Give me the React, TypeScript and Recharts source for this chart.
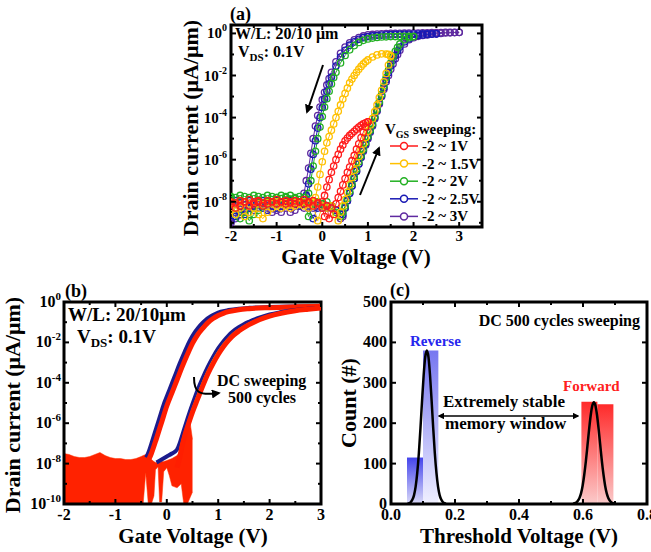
import React from "react";
import { ComposedChart, Line, Area, XAxis, YAxis, ReferenceArea } from "recharts";

type Pair = [number, number];

const FONT = "'Times New Roman', 'Liberation Serif', serif";

// ---------- (a) hysteresis sweeps, log10(Id) vs Vgs ----------
const SWEEP_LABELS = ["-2 ~ 1V", "-2 ~ 1.5V", "-2 ~ 2V", "-2 ~ 2.5V", "-2 ~ 3V"];
const SWEEP_COLORS = ["#ff1a1a", "#ffc000", "#22b022", "#1a1ab4", "#5f2aa0"];

const A_RED_FWD: Pair[] = [
  [-2.0, -8.1], [-1.9, -8.3], [-1.8, -8.2], [-1.7, -8.0], [-1.6, -8.2], [-1.5, -8.1], [-1.4, -8.0], [-1.3, -8.2],
  [-1.2, -8.1], [-1.1, -8.0], [-1.0, -8.1], [-0.9, -8.0], [-0.8, -8.1], [-0.7, -8.0], [-0.6, -8.1], [-0.5, -8.0],
  [-0.4, -8.1], [-0.3, -8.0], [-0.2, -8.2], [-0.1, -8.1], [0.0, -8.3], [0.05, -8.7], [0.1, -8.2], [0.15, -8.8],
  [0.2, -8.3], [0.25, -8.6], [0.3, -8.1], [0.35, -7.8], [0.4, -7.5], [0.45, -7.2], [0.5, -6.9], [0.55, -6.6],
  [0.6, -6.35], [0.65, -6.05], [0.7, -5.8], [0.75, -5.5], [0.8, -5.25], [0.85, -4.95], [0.9, -4.7], [0.95, -4.45],
  [1.0, -4.2],
];
const A_RED_REV: Pair[] = [
  [1.0, -4.2], [0.95, -4.25], [0.9, -4.3], [0.85, -4.37], [0.8, -4.45], [0.75, -4.55], [0.7, -4.65], [0.65, -4.75],
  [0.6, -4.85], [0.55, -4.97], [0.5, -5.1], [0.45, -5.3], [0.4, -5.5], [0.35, -5.75], [0.3, -6.0], [0.25, -6.3],
  [0.2, -6.6], [0.15, -6.95], [0.1, -7.3], [0.05, -7.7], [0.0, -8.0], [-0.1, -8.05], [-0.2, -7.95], [-0.3, -8.05],
  [-0.4, -7.9], [-0.5, -8.0], [-0.6, -7.95], [-0.7, -8.05], [-0.8, -7.95], [-0.9, -8.0], [-1.0, -7.9], [-1.1, -8.0],
  [-1.2, -7.95], [-1.3, -8.05], [-1.4, -7.95], [-1.5, -8.0], [-1.6, -7.9], [-1.7, -8.0], [-1.8, -7.95], [-1.9, -8.05],
  [-2.0, -8.0],
];
const A_YEL_FWD: Pair[] = [
  [-2.0, -8.4], [-1.9, -8.6], [-1.8, -8.3], [-1.7, -8.7], [-1.6, -8.5], [-1.5, -8.3], [-1.4, -8.6], [-1.3, -8.8],
  [-1.2, -8.5], [-1.1, -8.3], [-1.0, -8.2], [-0.9, -8.3], [-0.8, -8.2], [-0.7, -8.3], [-0.6, -8.2], [-0.5, -8.1],
  [-0.4, -8.2], [-0.3, -8.3], [-0.2, -8.2], [-0.1, -8.9], [0.0, -8.2], [0.1, -8.3], [0.2, -8.2], [0.3, -8.6],
  [0.35, -8.9], [0.4, -8.5], [0.45, -8.2], [0.5, -7.9], [0.55, -7.55], [0.6, -7.2], [0.65, -6.85], [0.7, -6.5],
  [0.75, -6.15], [0.8, -5.85], [0.85, -5.55], [0.9, -5.25], [0.95, -4.95], [1.0, -4.65], [1.05, -4.35], [1.1, -4.05],
  [1.15, -3.72], [1.2, -3.4], [1.25, -3.05], [1.3, -2.7], [1.35, -2.3], [1.4, -1.9], [1.45, -1.5], [1.5, -1.1],
];
const A_YEL_REV: Pair[] = [
  [1.5, -1.05], [1.45, -1.0], [1.4, -0.98], [1.3, -0.97], [1.2, -1.02], [1.1, -1.12], [1.0, -1.26], [0.95, -1.35],
  [0.9, -1.45], [0.85, -1.57], [0.8, -1.7], [0.75, -1.85], [0.7, -2.0], [0.65, -2.17], [0.6, -2.35], [0.55, -2.6],
  [0.5, -2.85], [0.45, -3.12], [0.4, -3.4], [0.35, -3.7], [0.3, -4.0], [0.25, -4.3], [0.2, -4.6], [0.15, -4.9],
  [0.1, -5.2], [0.05, -5.6], [0.0, -6.1], [-0.05, -6.7], [-0.1, -7.3], [-0.15, -7.8], [-0.2, -8.0], [-0.3, -8.1],
  [-0.4, -8.0], [-0.5, -8.1], [-0.6, -8.05], [-0.7, -8.15], [-0.8, -8.05], [-0.9, -8.1], [-1.0, -8.0], [-1.1, -8.1],
  [-1.2, -8.05], [-1.3, -8.15], [-1.4, -8.1], [-1.5, -8.0], [-1.6, -8.1], [-1.7, -8.05], [-1.8, -8.15], [-1.9, -8.1],
  [-2.0, -8.05],
];
const A_GRN_FWD: Pair[] = [
  [-2.0, -7.8], [-1.9, -8.6], [-1.8, -8.8], [-1.7, -8.5], [-1.6, -8.9], [-1.5, -8.6], [-1.4, -8.4], [-1.3, -8.2],
  [-1.2, -8.0], [-1.1, -7.9], [-1.0, -7.8], [-0.9, -7.85], [-0.8, -7.8], [-0.7, -7.9], [-0.6, -7.85], [-0.5, -7.9],
  [-0.4, -8.0], [-0.3, -8.7], [-0.2, -8.1], [-0.1, -8.0], [0.0, -8.1], [0.1, -8.0], [0.2, -8.2], [0.3, -8.5],
  [0.4, -8.7], [0.45, -8.5], [0.5, -8.2], [0.55, -7.85], [0.6, -7.5], [0.65, -7.15], [0.7, -6.8], [0.75, -6.45],
  [0.8, -6.1], [0.85, -5.8], [0.9, -5.5], [0.95, -5.2], [1.0, -4.9], [1.05, -4.6], [1.1, -4.3], [1.15, -3.95],
  [1.2, -3.6], [1.25, -3.25], [1.3, -2.9], [1.35, -2.5], [1.4, -2.1], [1.45, -1.75], [1.5, -1.4], [1.55, -1.1],
  [1.6, -0.85], [1.65, -0.66], [1.7, -0.5], [1.8, -0.3], [1.9, -0.2], [2.0, -0.15],
];
const A_GRN_REV: Pair[] = [
  [2.0, -0.15], [1.9, -0.14], [1.8, -0.14], [1.7, -0.14], [1.6, -0.15], [1.5, -0.15], [1.4, -0.16], [1.3, -0.17],
  [1.2, -0.19], [1.1, -0.22], [1.0, -0.26], [0.9, -0.33], [0.8, -0.43], [0.7, -0.58], [0.6, -0.78], [0.5, -1.05],
  [0.4, -1.4], [0.3, -1.85], [0.25, -2.1], [0.2, -2.4], [0.15, -2.75], [0.1, -3.1], [0.05, -3.5], [0.0, -3.95],
  [-0.05, -4.45], [-0.1, -5.0], [-0.15, -5.6], [-0.2, -6.3], [-0.25, -7.0], [-0.3, -7.6], [-0.35, -8.0], [-0.4, -7.8],
  [-0.5, -7.75], [-0.6, -7.8], [-0.7, -7.7], [-0.8, -7.75], [-0.9, -7.7], [-1.0, -7.8], [-1.1, -7.75], [-1.2, -7.7],
  [-1.3, -7.8], [-1.4, -7.75], [-1.5, -7.7], [-1.6, -7.8], [-1.7, -7.75], [-1.8, -7.7], [-1.9, -7.8], [-2.0, -7.75],
];
const A_BLU_FWD: Pair[] = [
  [-2.0, -8.9], [-1.9, -8.7], [-1.8, -8.5], [-1.7, -8.6], [-1.6, -8.3], [-1.5, -8.2], [-1.4, -8.1], [-1.3, -8.3],
  [-1.2, -8.4], [-1.1, -8.2], [-1.0, -8.3], [-0.9, -8.2], [-0.8, -8.1], [-0.7, -8.2], [-0.6, -8.1], [-0.5, -8.2],
  [-0.4, -8.1], [-0.3, -8.3], [-0.2, -8.8], [-0.1, -8.3], [0.0, -8.2], [0.1, -8.3], [0.2, -8.2], [0.3, -8.4],
  [0.4, -8.6], [0.45, -8.6], [0.5, -8.3], [0.55, -7.95], [0.6, -7.6], [0.65, -7.25], [0.7, -6.9], [0.75, -6.55],
  [0.8, -6.2], [0.85, -5.87], [0.9, -5.55], [0.95, -5.25], [1.0, -4.95], [1.05, -4.65], [1.1, -4.35], [1.15, -4.0],
  [1.2, -3.65], [1.25, -3.3], [1.3, -2.95], [1.35, -2.58], [1.4, -2.2], [1.45, -1.87], [1.5, -1.55], [1.55, -1.28],
  [1.6, -1.05], [1.65, -0.84], [1.7, -0.65], [1.8, -0.4], [1.9, -0.25], [2.0, -0.15], [2.1, -0.1], [2.2, -0.07],
  [2.3, -0.05], [2.4, -0.03], [2.5, -0.02],
];
const A_BLU_REV: Pair[] = [
  [2.5, -0.02], [2.4, -0.02], [2.3, -0.02], [2.2, -0.02], [2.1, -0.03], [2.0, -0.03], [1.9, -0.04], [1.8, -0.04],
  [1.7, -0.04], [1.6, -0.05], [1.5, -0.06], [1.4, -0.07], [1.3, -0.08], [1.2, -0.1], [1.1, -0.12], [1.0, -0.15],
  [0.9, -0.2], [0.8, -0.28], [0.7, -0.4], [0.6, -0.56], [0.5, -0.8], [0.4, -1.12], [0.3, -1.55], [0.2, -2.08],
  [0.15, -2.4], [0.1, -2.75], [0.05, -3.12], [0.0, -3.52], [-0.05, -4.0], [-0.1, -4.5], [-0.15, -5.1], [-0.2, -5.75],
  [-0.25, -6.45], [-0.3, -7.15], [-0.35, -7.7], [-0.4, -8.0], [-0.5, -8.0], [-0.6, -8.05], [-0.7, -7.95], [-0.8, -8.0],
  [-0.9, -8.05], [-1.0, -7.95], [-1.1, -8.0], [-1.2, -8.05], [-1.3, -7.95], [-1.4, -8.0], [-1.5, -8.05], [-1.6, -7.95],
  [-1.7, -8.0], [-1.8, -8.05], [-1.9, -7.95], [-2.0, -8.0],
];
const A_PUR_FWD: Pair[] = [
  [-2.0, -9.0], [-1.9, -8.8], [-1.8, -8.6], [-1.7, -8.4], [-1.6, -8.3], [-1.5, -8.4], [-1.4, -8.3], [-1.3, -8.2],
  [-1.2, -8.3], [-1.1, -8.5], [-1.0, -8.4], [-0.9, -8.5], [-0.8, -8.3], [-0.7, -8.5], [-0.6, -8.4], [-0.5, -8.2],
  [-0.4, -8.3], [-0.3, -8.2], [-0.2, -8.3], [-0.1, -8.2], [0.0, -8.3], [0.1, -8.2], [0.2, -8.3], [0.3, -8.4],
  [0.4, -8.8], [0.45, -8.7], [0.5, -8.3], [0.55, -7.95], [0.6, -7.6], [0.65, -7.25], [0.7, -6.9], [0.75, -6.55],
  [0.8, -6.2], [0.85, -5.9], [0.9, -5.6], [0.95, -5.3], [1.0, -5.0], [1.05, -4.7], [1.1, -4.4], [1.15, -4.05],
  [1.2, -3.7], [1.25, -3.35], [1.3, -3.0], [1.35, -2.65], [1.4, -2.3], [1.45, -2.0], [1.5, -1.7], [1.55, -1.45],
  [1.6, -1.2], [1.65, -1.0], [1.7, -0.8], [1.8, -0.5], [1.9, -0.3], [2.0, -0.2], [2.1, -0.14], [2.2, -0.1],
  [2.3, -0.07], [2.4, -0.04], [2.5, -0.02], [2.6, 0.0], [2.7, 0.02], [2.8, 0.03], [2.9, 0.04], [3.0, 0.05],
];
const A_PUR_REV: Pair[] = [
  [3.0, 0.05], [2.9, 0.05], [2.8, 0.05], [2.7, 0.05], [2.6, 0.04], [2.5, 0.04], [2.4, 0.04], [2.3, 0.03],
  [2.2, 0.03], [2.1, 0.02], [2.0, 0.02], [1.9, 0.01], [1.8, 0.01], [1.7, 0.0], [1.6, 0.0], [1.5, 0.0],
  [1.4, -0.01], [1.3, -0.02], [1.2, -0.03], [1.1, -0.05], [1.0, -0.07], [0.9, -0.12], [0.8, -0.2], [0.7, -0.3],
  [0.6, -0.45], [0.5, -0.65], [0.4, -0.95], [0.3, -1.35], [0.2, -1.85], [0.15, -2.15], [0.1, -2.45], [0.05, -2.8],
  [0.0, -3.15], [-0.05, -3.5], [-0.1, -3.9], [-0.15, -4.4], [-0.2, -5.0], [-0.25, -5.7], [-0.3, -6.4], [-0.35, -7.0],
  [-0.4, -7.6], [-0.45, -8.0], [-0.5, -8.1], [-0.6, -8.2], [-0.7, -8.1], [-0.8, -8.15], [-0.9, -8.2], [-1.0, -8.1],
  [-1.1, -8.15], [-1.2, -8.2], [-1.3, -8.1], [-1.4, -8.15], [-1.5, -8.2], [-1.6, -8.1], [-1.7, -8.15], [-1.8, -8.2],
  [-1.9, -8.1], [-2.0, -8.15],
];
const A_SWEEPS: Pair[][][] = [
  [A_RED_FWD, A_RED_REV],
  [A_YEL_FWD, A_YEL_REV],
  [A_GRN_FWD, A_GRN_REV],
  [A_BLU_FWD, A_BLU_REV],
  [A_PUR_FWD, A_PUR_REV],
];
const A_X_TICKS = [-2, -1.5, -1, -0.5, 0, 0.5, 1, 1.5, 2, 2.5, 3, 3.5];
const A_X_MAJOR = [-2, -1, 0, 1, 2, 3];
const A_Y_TICKS = [-9, -8, -7, -6, -5, -4, -3, -2, -1, 0];
const A_Y_MAJOR = [-8, -6, -4, -2, 0];

// ---------- (b) 500 DC cycles ----------
const B_REV_NAVY: Pair[] = [
  [-0.4, -7.7], [-0.35, -7.4], [-0.25, -6.6], [-0.15, -5.8], [-0.05, -5.0], [0.05, -4.35], [0.15, -3.7], [0.25, -3.05],
  [0.35, -2.45], [0.45, -1.9], [0.55, -1.48], [0.65, -1.15], [0.75, -0.9], [0.85, -0.72], [0.95, -0.58], [1.05, -0.48],
  [1.2, -0.4], [1.4, -0.33], [1.6, -0.29], [2.0, -0.25], [2.5, -0.22], [3.0, -0.2],
];
const B_REV_RED: Pair[] = [
  [-0.35, -7.8], [-0.3, -7.5], [-0.2, -6.75], [-0.1, -5.95], [0.0, -5.15], [0.1, -4.5], [0.2, -3.85], [0.3, -3.2],
  [0.4, -2.6], [0.5, -2.05], [0.6, -1.62], [0.7, -1.3], [0.8, -1.02], [0.9, -0.82], [1.0, -0.67], [1.1, -0.56],
  [1.2, -0.48], [1.4, -0.38], [1.6, -0.33], [2.0, -0.28], [2.5, -0.24], [3.0, -0.21],
];
const B_FWD_NAVY: Pair[] = [
  [-0.2, -7.95], [-0.1, -7.8], [0.0, -7.65], [0.1, -7.5], [0.2, -7.3], [0.25, -7.0], [0.3, -6.6], [0.4, -5.8],
  [0.5, -5.05], [0.6, -4.35], [0.7, -3.75], [0.8, -3.2], [0.9, -2.72], [1.0, -2.3], [1.1, -1.95], [1.2, -1.66],
  [1.3, -1.43], [1.4, -1.25], [1.5, -1.1], [1.6, -0.98], [1.8, -0.78], [2.0, -0.62], [2.2, -0.51], [2.5, -0.39],
  [2.75, -0.33], [3.0, -0.28],
];
const B_FWD_YEL: Pair[] = [
  [0.25, -7.4], [0.3, -6.9], [0.35, -6.45], [0.4, -6.05], [0.5, -5.3], [0.6, -4.62], [0.7, -3.98], [0.8, -3.4],
  [0.9, -2.9], [1.0, -2.47], [1.1, -2.1], [1.2, -1.8], [1.3, -1.55], [1.4, -1.36], [1.5, -1.2], [1.6, -1.06],
  [1.8, -0.84], [2.0, -0.67], [2.2, -0.55], [2.5, -0.42], [3.0, -0.29],
];
const B_FWD_RED: Pair[] = [
  [0.2, -8.2], [0.25, -7.7], [0.3, -7.1], [0.35, -6.6], [0.4, -6.2], [0.5, -5.45], [0.6, -4.8], [0.7, -4.15],
  [0.8, -3.55], [0.9, -3.05], [1.0, -2.6], [1.1, -2.22], [1.2, -1.9], [1.3, -1.64], [1.4, -1.44], [1.5, -1.27],
  [1.6, -1.12], [1.8, -0.88], [2.0, -0.7], [2.2, -0.57], [2.5, -0.43], [2.75, -0.36], [3.0, -0.3],
];
// off-state noise envelope: [V, low, high]
const B_NOISE: [number, number, number][] = [
  [-2.0, -10, -7.5], [-1.9, -10, -7.55], [-1.8, -10, -7.65], [-1.7, -10, -7.7], [-1.6, -10, -7.7], [-1.5, -10, -7.65],
  [-1.4, -10, -7.55], [-1.3, -10, -7.45], [-1.2, -10, -7.6], [-1.1, -10, -7.7], [-1.0, -10, -7.75], [-0.9, -10, -7.75],
  [-0.8, -10, -7.8], [-0.7, -10, -7.8], [-0.6, -10, -7.75], [-0.5, -10, -7.65], [-0.46, -10, -7.6], [-0.41, -8.45, -7.55],
  [-0.36, -10, -7.65], [-0.3, -10, -7.8], [-0.25, -9.6, -7.9], [-0.22, -8.3, -7.95], [-0.17, -8.15, -7.95],
  [-0.14, -9.9, -7.95], [-0.1, -9.9, -7.9], [-0.06, -8.4, -7.9], [0.0, -8.2, -7.85], [0.05, -8.6, -7.8],
  [0.1, -9.1, -7.75], [0.2, -9.2, -7.6], [0.28, -9.0, -7.3], [0.33, -10, -6.9], [0.4, -10, -6.3], [0.45, -9.7, -5.9],
  [0.5, -9.4, -6.8],
];
const B_X_TICKS = [-2, -1.5, -1, -0.5, 0, 0.5, 1, 1.5, 2, 2.5, 3];
const B_X_MAJOR = [-2, -1, 0, 1, 2, 3];
const B_Y_TICKS = [-10, -9, -8, -7, -6, -5, -4, -3, -2, -1, 0];
const B_Y_MAJOR = [-10, -8, -6, -4, -2, 0];

// ---------- (c) Vth histogram ----------
const C_REV_BINS: [number, number, number][] = [[0.05, 0.1, 115], [0.1, 0.148, 380]];
const C_FWD_BINS: [number, number, number][] = [[0.595, 0.645, 253], [0.645, 0.695, 247]];
const C_REV_FIT: Pair[] = [
  [0.052, 1], [0.057, 2], [0.062, 5], [0.067, 11], [0.072, 22], [0.077, 43], [0.082, 77], [0.087, 125],
  [0.092, 187], [0.097, 255], [0.102, 318], [0.107, 364], [0.112, 380], [0.117, 364], [0.122, 318], [0.127, 255],
  [0.132, 187], [0.137, 125], [0.142, 77], [0.147, 43], [0.152, 22], [0.157, 11], [0.162, 5], [0.167, 2], [0.172, 1],
];
const C_FWD_FIT: Pair[] = [
  [0.569, 1], [0.574, 2], [0.579, 4], [0.584, 8], [0.589, 15], [0.594, 27], [0.599, 46], [0.604, 73],
  [0.609, 106], [0.614, 145], [0.619, 184], [0.624, 219], [0.629, 243], [0.634, 252], [0.639, 243], [0.644, 219],
  [0.649, 184], [0.654, 145], [0.659, 106], [0.664, 73], [0.669, 46], [0.674, 27], [0.679, 15], [0.684, 8],
  [0.689, 4], [0.694, 2], [0.699, 1],
];
const C_X_TICKS = [0, 0.1, 0.2, 0.3, 0.4, 0.5, 0.6, 0.7, 0.8];
const C_X_MAJOR = [0, 0.2, 0.4, 0.6, 0.8];
const C_Y_TICKS = [0, 100, 200, 300, 400, 500];
const C_Y_MAJOR = [0, 100, 200, 300, 400, 500];

const pts = (a: Pair[], k = "i") => a.map(([v, y]) => ({ v, [k]: y }));
const isMajor = (v: number, m: number[]) => m.some((x) => Math.abs(x - v) < 1e-6);

type TickOpt = { major: number[]; span: number; size: number; gap: number; label: (v: number) => React.ReactNode };

const xTick = (o: TickOpt) => (p: any) => {
  const { x, y } = p;
  const v = p.payload.value;
  const mj = isMajor(v, o.major);
  const len = mj ? 5 : 3;
  return (
    <g>
      <line x1={x} x2={x} y1={y} y2={y - len} stroke="#000" strokeWidth={2} />
      <line x1={x} x2={x} y1={y - o.span} y2={y - o.span + len} stroke="#000" strokeWidth={2} />
      {mj && (
        <text x={x} y={y + o.gap} textAnchor="middle" fontFamily={FONT} fontWeight="bold" fontSize={o.size} fill="#000">
          {o.label(v)}
        </text>
      )}
    </g>
  );
};

const yTick = (o: TickOpt) => (p: any) => {
  const { x, y } = p;
  const v = p.payload.value;
  const mj = isMajor(v, o.major);
  const len = mj ? 5 : 3;
  return (
    <g>
      <line x1={x} x2={x + len} y1={y} y2={y} stroke="#000" strokeWidth={2} />
      <line x1={x + o.span} x2={x + o.span - len} y1={y} y2={y} stroke="#000" strokeWidth={2} />
      {mj && (
        <text x={x - o.gap} y={y + 5} textAnchor="end" fontFamily={FONT} fontWeight="bold" fontSize={o.size} fill="#000">
          {o.label(v)}
        </text>
      )}
    </g>
  );
};

const pow10 = (sup: number) => (v: number) => (
  <>
    <tspan>10</tspan>
    <tspan dy={-7} fontSize={sup}>{v}</tspan>
  </>
);

const axisCommon = {
  type: "number" as const,
  interval: 0 as const,
  allowDataOverflow: true,
  tickSize: 0,
  tickMargin: 0,
  axisLine: false,
  tickLine: false,
};

// axes get 1px of thickness (0 would make recharts skip drawing them)
const MARGIN = { top: 20, right: 10, bottom: 29, left: 49 };

function PanelA() {
  return (
    <div style={{ position: "absolute", left: 181, top: 5 }}>
      <ComposedChart width={311} height={252} margin={MARGIN}>
        <XAxis {...axisCommon} dataKey="v" domain={[-2, 3.5]} ticks={A_X_TICKS} height={1}
          tick={xTick({ major: A_X_MAJOR, span: 202, size: 15, gap: 14, label: (v) => String(v) })} />
        <YAxis {...axisCommon} domain={[-9.2, 0.4]} ticks={A_Y_TICKS} width={1}
          tick={yTick({ major: A_Y_MAJOR, span: 251, size: 15, gap: 4, label: pow10(10) })} />
        {[4, 3, 2, 1, 0].flatMap((k) =>
          A_SWEEPS[k].map((br, j) => (
            <Line key={`a${k}${j}`} data={pts(br)} dataKey="i" type="linear" stroke={SWEEP_COLORS[k]} strokeWidth={1}
              dot={{ r: 3.2, fill: "none", stroke: SWEEP_COLORS[k], strokeWidth: 1.3 }} activeDot={false}
              isAnimationActive={false} />
          ))
        )}
        <ReferenceArea x1={-2} x2={3.5} y1={-9.2} y2={0.4} fill="none" stroke="#000" strokeWidth={3} />
      </ComposedChart>
    </div>
  );
}

function PanelB() {
  const noise = B_NOISE.map(([v, lo, hi]) => ({ v, r: [lo, hi] }));
  const band = (d: Pair[], c: string, w: number, key: string) => (
    <Line key={key} data={pts(d)} dataKey="i" type="monotone" stroke={c} strokeWidth={w} dot={false}
      activeDot={false} isAnimationActive={false} />
  );
  return (
    <div style={{ position: "absolute", left: 14, top: 282 }}>
      <ComposedChart width={317} height={252} margin={MARGIN}>
        <XAxis {...axisCommon} dataKey="v" domain={[-2, 3]} ticks={B_X_TICKS} height={1}
          tick={xTick({ major: B_X_MAJOR, span: 202, size: 16, gap: 16, label: (v) => String(v) })} />
        <YAxis {...axisCommon} domain={[-10, 0]} ticks={B_Y_TICKS} width={1}
          tick={yTick({ major: B_Y_MAJOR, span: 257, size: 16, gap: 3, label: pow10(11) })} />
        <Area data={noise} dataKey="r" type="linear" stroke="#ff3300" strokeWidth={0.5} fill="#ff2200" fillOpacity={1}
          activeDot={false} isAnimationActive={false} />
        {band(B_REV_NAVY, "#1c1c8c", 4, "rn")}
        {band(B_REV_RED, "#ff1e00", 5, "rr")}
        {band(B_FWD_NAVY, "#1c1c8c", 4, "fn")}
        {band(B_FWD_YEL, "#e6e600", 2, "fy")}
        {band(B_FWD_RED, "#ff1e00", 5, "fr")}
        <ReferenceArea x1={-2} x2={3} y1={-10} y2={0} fill="none" stroke="#000" strokeWidth={3} />
      </ComposedChart>
    </div>
  );
}

function PanelC() {
  return (
    <div style={{ position: "absolute", left: 341, top: 282 }}>
      <ComposedChart width={310} height={252} margin={{ ...MARGIN, right: 4 }}>
        <defs>
          <linearGradient id="gRevS" x1="0" y1="0" x2="0" y2="1">
            <stop offset="0%" stopColor="#4444ec" />
            <stop offset="100%" stopColor="#dadaf8" />
          </linearGradient>
          <linearGradient id="gRevT" x1="0" y1="0" x2="0" y2="1">
            <stop offset="0%" stopColor="#7676f0" />
            <stop offset="100%" stopColor="#f0f0ff" />
          </linearGradient>
          <linearGradient id="gFwd" x1="0" y1="0" x2="0" y2="1">
            <stop offset="0%" stopColor="#ff2a2a" />
            <stop offset="100%" stopColor="#fbcaca" />
          </linearGradient>
        </defs>
        <XAxis {...axisCommon} dataKey="v" domain={[0, 0.8]} ticks={C_X_TICKS} height={1}
          tick={xTick({ major: C_X_MAJOR, span: 202, size: 16, gap: 16, label: (v) => v.toFixed(1) })} />
        <YAxis {...axisCommon} domain={[0, 500]} ticks={C_Y_TICKS} width={1}
          tick={yTick({ major: C_Y_MAJOR, span: 256, size: 16, gap: 4, label: (v) => String(v) })} />
        {C_REV_BINS.map(([l, r, n], k) => (
          <ReferenceArea key={`rb${k}`} x1={l} x2={r} y1={0} y2={n} fill={k === 0 ? "url(#gRevS)" : "url(#gRevT)"}
            fillOpacity={1} stroke="none" />
        ))}
        {C_FWD_BINS.map(([l, r, n], k) => (
          <ReferenceArea key={`fb${k}`} x1={l} x2={r} y1={0} y2={n} fill="url(#gFwd)" fillOpacity={1} stroke="none" />
        ))}
        <Line data={pts(C_REV_FIT, "c")} dataKey="c" type="monotone" stroke="#000" strokeWidth={2.5} dot={false}
          activeDot={false} isAnimationActive={false} />
        <Line data={pts(C_FWD_FIT, "c")} dataKey="c" type="monotone" stroke="#000" strokeWidth={2.5} dot={false}
          activeDot={false} isAnimationActive={false} />
        <ReferenceArea x1={0} x2={0.8} y1={0} y2={500} fill="none" stroke="#000" strokeWidth={3} />
      </ComposedChart>
    </div>
  );
}

function Overlay() {
  return (
    <svg width={651} height={552} style={{ position: "absolute", left: 0, top: 0, pointerEvents: "none" }}>
      <defs>
        <marker id="ah" viewBox="0 0 10 10" refX="8" refY="5" markerWidth="4.5" markerHeight="4.5"
          orient="auto-start-reverse">
          <path d="M0,0 L10,5 L0,10 z" fill="#000" />
        </marker>
      </defs>
      <g fontFamily={FONT} fontWeight="bold" fill="#000">
        {/* (a) */}
        <text x={230} y={20} fontSize={18}>(a)</text>
        <text transform="translate(198,128) rotate(-90)" textAnchor="middle" fontSize={22}>Drain current (μA/μm)</text>
        <text x={356} y={264} textAnchor="middle" fontSize={21}>Gate Voltage (V)</text>
        <text x={235} y={39} fontSize={16}>W/L: 20/10 μm</text>
        <text x={238} y={57} fontSize={16}>
          V<tspan fontSize={11} dy={4}>DS</tspan><tspan dy={-4}>: 0.1V</tspan>
        </text>
        <line x1={323} y1={65} x2={307} y2={112} stroke="#000" strokeWidth={2} markerEnd="url(#ah)" />
        <line x1={360} y1={195} x2={379} y2={148} stroke="#000" strokeWidth={2} markerEnd="url(#ah)" />
        <text x={385} y={134} fontSize={15}>
          V<tspan fontSize={10} dy={4}>GS</tspan><tspan dy={-4}> sweeping:</tspan>
        </text>
        {SWEEP_LABELS.map((s, k) => {
          const cy = 146 + k * 17.6;
          return (
            <g key={s}>
              <line x1={390} x2={418} y1={cy} y2={cy} stroke={SWEEP_COLORS[k]} strokeWidth={1.5} />
              <circle cx={404} cy={cy} r={3.5} fill="#fff" stroke={SWEEP_COLORS[k]} strokeWidth={1.5} />
              <text x={422} y={cy + 5} fontSize={15}>{s}</text>
            </g>
          );
        })}

        {/* (b) */}
        <text x={65} y={297} fontSize={18}>(b)</text>
        <text transform="translate(20,405) rotate(-90)" textAnchor="middle" fontSize={22}>Drain current (μA/μm)</text>
        <text x={193} y={543} textAnchor="middle" fontSize={21}>Gate Voltage (V)</text>
        <text x={68} y={321} fontSize={19}>W/L: 20/10μm</text>
        <text x={77} y={343} fontSize={19}>
          V<tspan fontSize={13} dy={4}>DS</tspan><tspan dy={-4}>: 0.1V</tspan>
        </text>
        <text x={217} y={386} fontSize={16}>DC sweeping</text>
        <text x={228} y={403} fontSize={16}>500 cycles</text>
        <path d="M194,377 C194,392 198,396 219,393" fill="none" stroke="#000" strokeWidth={2} markerEnd="url(#ah)" />

        {/* (c) */}
        <text x={390} y={296} fontSize={18}>(c)</text>
        <text transform="translate(356,403) rotate(-90)" textAnchor="middle" fontSize={22}>Count (#)</text>
        <text x={519} y={543} textAnchor="middle" fontSize={21}>Threshold Voltage (V)</text>
        <text x={640} y={326} textAnchor="end" fontSize={16}>DC 500 cycles sweeping</text>
        <text x={410} y={346} fontSize={15} fill="#2626ee">Reverse</text>
        <text x={563} y={391} fontSize={15} fill="#ff2020">Forward</text>
        <text x={443} y={407} fontSize={17}>Extremely stable</text>
        <text x={445} y={429} fontSize={17}>memory window</text>
        <line x1={439} y1={416} x2={578} y2={416} stroke="#000" strokeWidth={1.5} markerStart="url(#ah)"
          markerEnd="url(#ah)" />
      </g>
    </svg>
  );
}

export default function App() {
  return (
    <div style={{ position: "absolute", left: 0, top: 0, width: 651, height: 552, overflow: "hidden", background: "#fff" }}>
      <PanelA />
      <PanelB />
      <PanelC />
      <Overlay />
    </div>
  );
}
